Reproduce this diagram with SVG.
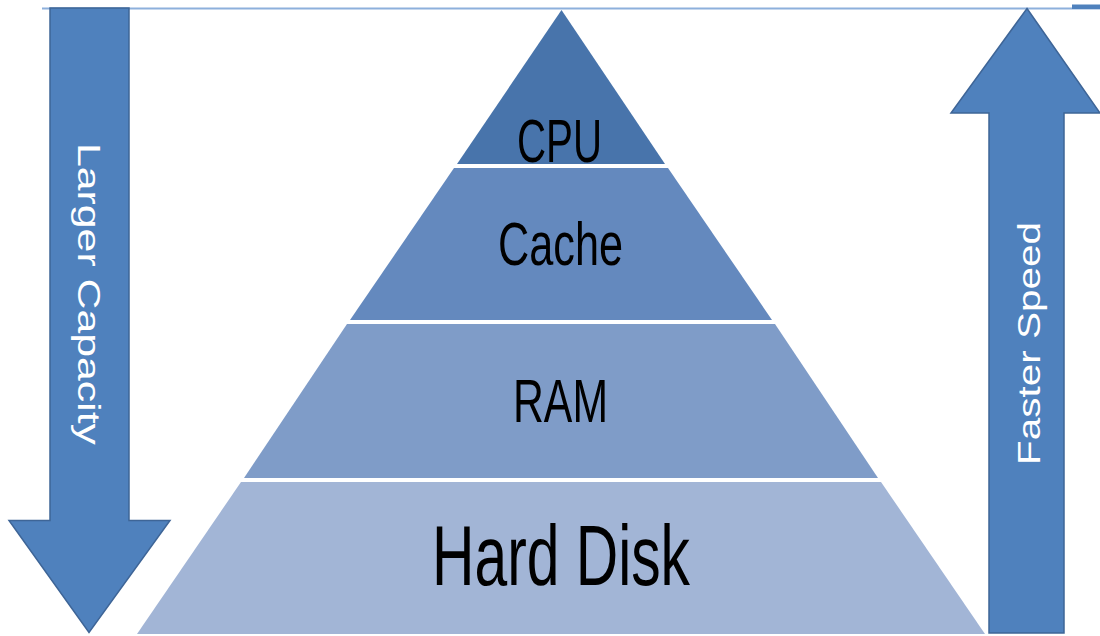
<svg xmlns="http://www.w3.org/2000/svg" width="1100" height="636" viewBox="0 0 1100 636">
<style>
.arrow{fill:#4f81bd;stroke:#3e6597;stroke-width:1.5;stroke-linejoin:miter}
.tier{stroke:none}
.lbl{font-family:"Liberation Sans",Arial,sans-serif;fill:#000;text-anchor:start}
.vlbl{font-family:"Liberation Sans",Arial,sans-serif;fill:#fff;font-size:31px}
</style>
<rect x="0" y="0" width="1100" height="636" fill="#fff"/>
<g id="topline">
<line x1="42" y1="8.5" x2="1100" y2="8.5" stroke="#8db0dc" stroke-width="2"/>
<rect x="1072" y="4.5" width="28" height="4.5" fill="#4f81bd"/>
</g>
<g id="larger-capacity">
<polygon class="arrow" points="50,8 129,8 129,520.5 170,520.5 89,632.5 9,520.5 50,520.5"/>
<text class="vlbl" transform="translate(78,143) rotate(90)" textLength="302" lengthAdjust="spacingAndGlyphs">Larger Capacity</text>
</g>
<g id="faster-speed">
<polygon class="arrow" points="1027,8.5 1100,113 1064,113 1064,633 989,633 989,113 951,113"/>
<text class="vlbl" transform="translate(1040,465) rotate(-90)" textLength="243" lengthAdjust="spacingAndGlyphs">Faster Speed</text>
</g>
<g id="cpu">
<polygon class="tier" fill="#4874ab" points="561.5,10 665,164 457,164"/>
<text class="lbl" x="517" y="162" font-size="62" textLength="85" lengthAdjust="spacingAndGlyphs">CPU</text>
</g>
<g id="cache">
<polygon class="tier" fill="#6489be" points="454,168 668,168 772,320 350,320"/>
<text class="lbl" x="498" y="265" font-size="62" textLength="125" lengthAdjust="spacingAndGlyphs">Cache</text>
</g>
<g id="ram">
<polygon class="tier" fill="#7f9cc8" points="347,324 775,324 878,478 244,478"/>
<text class="lbl" x="513" y="422" font-size="62" textLength="95" lengthAdjust="spacingAndGlyphs">RAM</text>
</g>
<g id="hard-disk">
<polygon class="tier" fill="#a2b5d6" points="241,482 881,482 985,634 137,634"/>
<text class="lbl" x="432" y="585" font-size="86" textLength="258" lengthAdjust="spacingAndGlyphs">Hard Disk</text>
</g>
</svg>
